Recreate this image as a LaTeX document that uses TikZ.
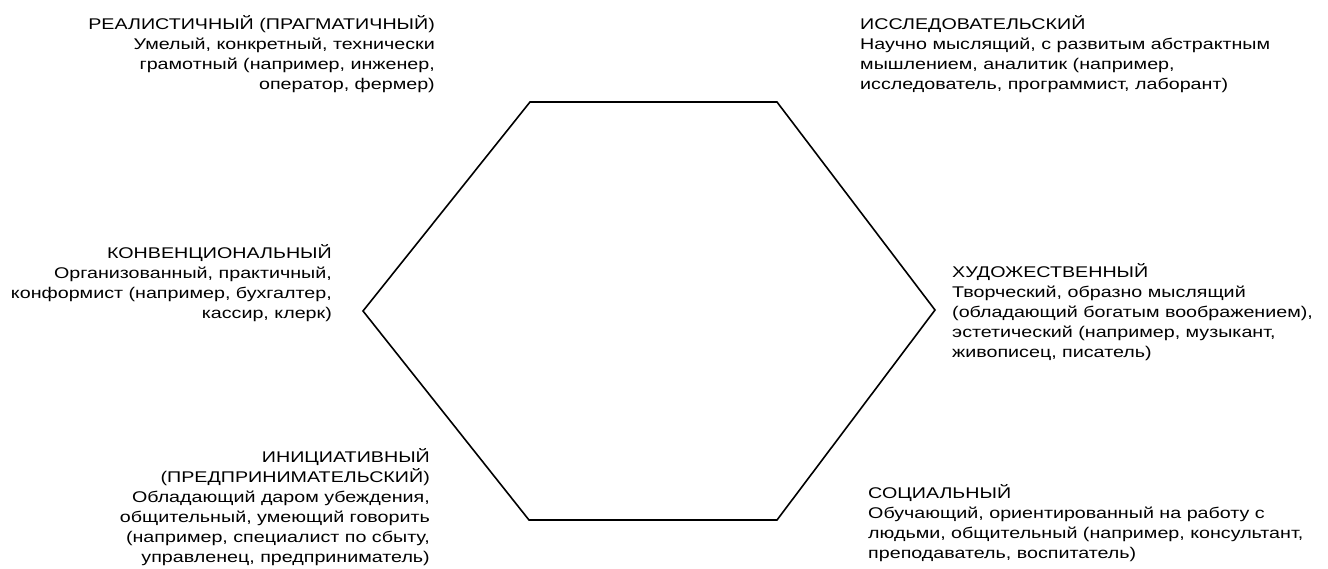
\documentclass[tikz,border=0pt]{standalone}
\usepackage{fontspec}
\setmainfont{Liberation Sans}[FakeStretch=1.27]
\begin{document}
\begin{tikzpicture}[x=1pt,y=-1pt,
  lbl/.style={inner sep=0pt, font=\fontsize{15.5}{20}\selectfont},
  lside/.style={lbl, anchor=north east, align=right},
  rside/.style={lbl, anchor=north west, align=left},
  hex/.style={draw=black, line width=1.6pt, line join=miter}]
\useasboundingbox[fill=white] (0,0) rectangle (1328,568);
% hexagon corners
\coordinate (tl) at (530,102);
\coordinate (tr) at (777,102);
\coordinate (r) at (935,310);
\coordinate (br) at (777,520);
\coordinate (bl) at (529,520);
\coordinate (l) at (363,311);
\draw[hex] (tl) -- (tr) -- (r) -- (br) -- (bl) -- (l) -- cycle;
% labels
\node[lside] (real) at (435,15) {РЕАЛИСТИЧНЫЙ (ПРАГМАТИЧНЫЙ)\\Умелый, конкретный, технически\\грамотный (например, инженер,\\оператор, фермер)};
\node[rside] (issl) at (860,15) {ИССЛЕДОВАТЕЛЬСКИЙ\\Научно мыслящий, с развитым абстрактным\\мышлением, аналитик (например,\\исследователь, программист, лаборант)};
\node[lside] (konv) at (332,244) {КОНВЕНЦИОНАЛЬНЫЙ\\Организованный, практичный,\\конформист (например, бухгалтер,\\кассир, клерк)};
\node[rside] (hud) at (952,263) {ХУДОЖЕСТВЕННЫЙ\\Творческий, образно мыслящий\\(обладающий богатым воображением),\\эстетический (например, музыкант,\\живописец, писатель)};
\node[lside] (inic) at (430,448) {ИНИЦИАТИВНЫЙ\\(ПРЕДПРИНИМАТЕЛЬСКИЙ)\\Обладающий даром убеждения,\\общительный, умеющий говорить\\(например, специалист по сбыту,\\управленец, предприниматель)};
\node[rside] (soc) at (868,484) {СОЦИАЛЬНЫЙ\\Обучающий, ориентированный на работу с\\людьми, общительный (например, консультант,\\преподаватель, воспитатель)};
\end{tikzpicture}
\end{document}
